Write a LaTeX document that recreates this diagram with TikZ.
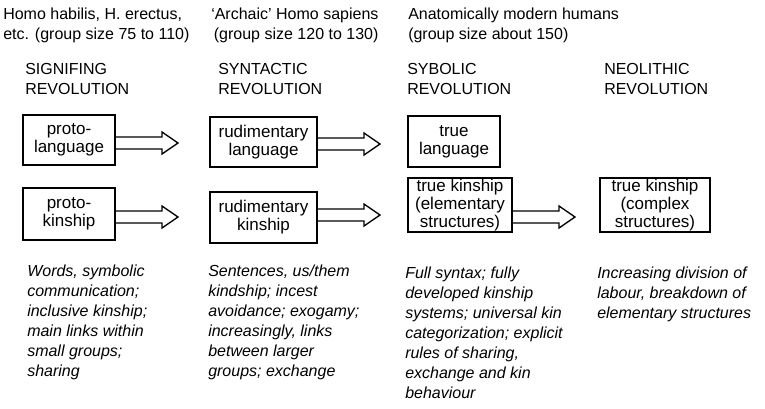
\documentclass[tikz,border=0pt]{standalone}
\usepackage{fontspec}
\setmainfont{Liberation Sans}
\usetikzlibrary{calc}

\begin{document}
\begin{tikzpicture}[x=0.75pt,y=-0.75pt,
    txt/.style={anchor=north west,inner sep=0pt,align=left,font=\fontsize{12}{15}\selectfont},
    note/.style={txt,font=\fontsize{12}{15}\selectfont\itshape},
    box/.style={draw,line width=1.6pt,inner sep=0pt,align=center,font=\fontsize{12.75}{13.5}\selectfont},
    fatarrow/.style={draw,line width=1pt,line join=miter,to path={
        ($(\tikztostart)+(0,-6)$) -- ($(\tikztotarget)+(-16,-6)$) -- ($(\tikztotarget)+(-16,-11)$)
        -- (\tikztotarget) -- ($(\tikztotarget)+(-16,11)$) -- ($(\tikztotarget)+(-16,6)$) -- ($(\tikztostart)+(0,6)$)}}]
    \useasboundingbox (0,0) rectangle (765,408);

    \node[txt] at (3,8) (h1){Homo habilis, H. erectus,\\etc. (group size 75 to 110)};
    \node[txt,align=right] at (211,8) (h2){‘Archaic’ Homo sapiens\\(group size 120 to 130)};
    \node[txt] at (408,8) (h3){Anatomically modern humans\\(group size about 150)};

    \node[txt] at (25,63) (r1){SIGNIFING\\REVOLUTION};
    \node[txt] at (218,63) (r2){SYNTACTIC\\REVOLUTION};
    \node[txt] at (407,63) (r3){SYBOLIC\\REVOLUTION};
    \node[txt] at (604,63) (r4){NEOLITHIC\\REVOLUTION};

    \node[box,minimum width=69pt,minimum height=37.5pt] at (69,140) (pl){proto-\\language};
    \node[box,minimum width=69pt,minimum height=39pt] at (69,214) (pk){proto-\\kinship};
    \node[box,minimum width=80.25pt,minimum height=37.5pt] at (263.5,142) (rl){rudimentary\\language};
    \node[box,minimum width=80.25pt,minimum height=38.25pt] at (263.5,217.5) (rk){rudimentary\\kinship};
    \node[box,minimum width=69pt,minimum height=38.25pt] at (454,141.5) (tl){true\\language};
    \node[box,minimum width=78pt,minimum height=40.5pt] at (460,205) (tk){true kinship\\(elementary\\structures)};
    \node[box,minimum width=82.5pt,minimum height=40.5pt] at (655,205) (tc){true kinship\\(complex\\structures)};

    \coordinate (t1) at (178,143);
    \coordinate (t2) at (178,217);
    \coordinate (t3) at (380,144);
    \coordinate (t4) at (380,215);
    \coordinate (t5) at (575,217);

    \draw[fatarrow] (pl.east |- t1) to (t1); %pl-rl
    \draw[fatarrow] (pk.east |- t2) to (t2); %pk-rk
    \draw[fatarrow] (rl.east |- t3) to (t3); %rl-tl
    \draw[fatarrow] (rk.east |- t4) to (t4); %rk-tk
    \draw[fatarrow] (tk.east |- t5) to (t5); %tk-tc

    \node[note] at (27,265) (n1){Words, symbolic\\communication;\\inclusive kinship;\\main links within\\small groups;\\sharing};
    \node[note] at (208,265) (n2){Sentences, us/them\\kindship; incest\\avoidance; exogamy;\\increasingly, links\\between larger\\groups; exchange};
    \node[note] at (405,267) (n3){Full syntax; fully\\developed kinship\\systems; universal kin\\categorization; explicit\\rules of sharing,\\exchange and kin\\behaviour};
    \node[note] at (597,267) (n4){Increasing division of\\labour, breakdown of\\elementary structures};
\end{tikzpicture}
\end{document}
